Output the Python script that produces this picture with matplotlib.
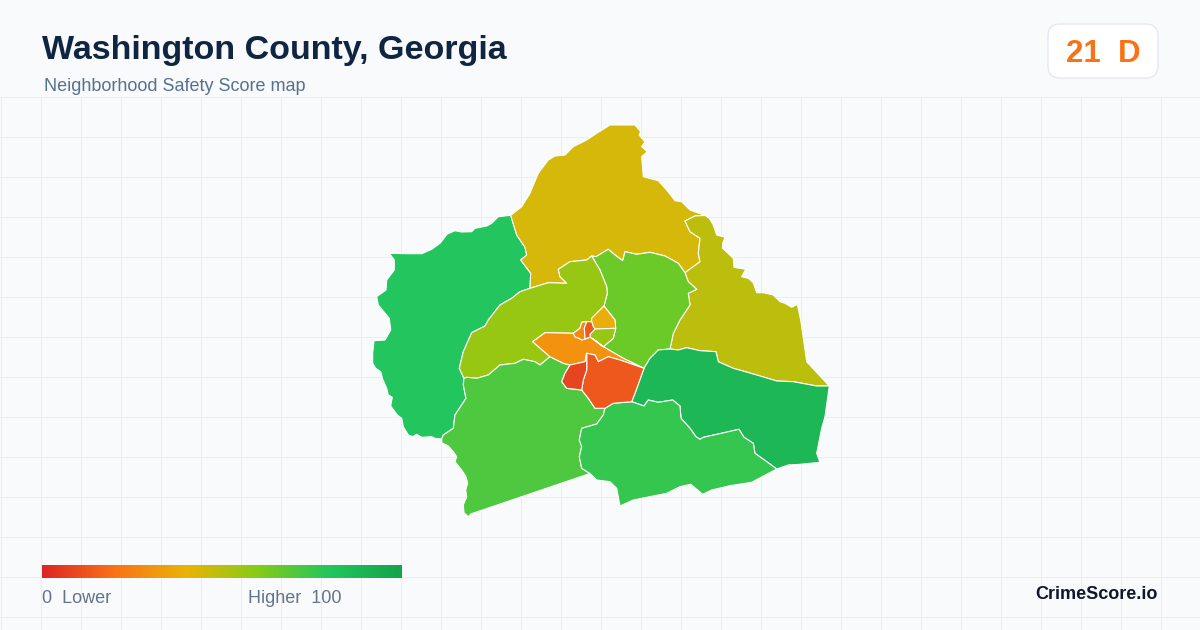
import matplotlib
matplotlib.use('Agg')
import matplotlib.pyplot as plt
import numpy as np
from matplotlib.colors import LinearSegmentedColormap
from matplotlib.patches import FancyBboxPatch

plt.rcParams['font.family'] = ['Liberation Sans', 'DejaVu Sans']

title = 'Washington County, Georgia'
subtitle = 'Neighborhood Safety Score map'
county_score = '21  D'
scale_colors = ['#dc2626', '#f97316', '#eab308', '#84cc16', '#22c55e', '#16a34a']

# shared borders
west_outer = [(510.7,215.3),(498.3,216.7),(491.7,223.3),(486.7,226),(475,228.3),(471.7,231.7),(461.7,232),(455,230.7),(447.3,234),(440,243.3),(431.7,249.3),(421.7,253.7),(406.7,253.7),(389.3,253.3),(394.3,260),(394.3,270),(386.7,280),(386,290),(376.7,296.7),(378.3,305),(389.3,318.3),(390.7,330),(385,340),(374,340.7),(372.7,353.3),(372.7,363.3),(375.7,368.3),(380.7,371.7),(382.7,379.3),(386.7,388.3),(388.3,395),(392.3,397.3),(390.7,406),(397.3,415),(401.7,418.3),(403.3,426.7),(408.3,435),(412.7,436.7),(416.7,434.3),(421.7,437.3),(431.7,436.7),(435,438.3),(441.7,439)]
west_south = [(441.7,439),(443.3,435),(453.3,428.3),(455,415),(466,398.3),(463.3,385),(464,378.3)]
west_mid = [(464,378.3),(459.3,368.3),(463.3,351.7),(471.7,332.7),(485,326),(488.3,320),(500,305),(511.7,298.3),(520,291.7),(530,288.3)]
west_north = [(530,288.3),(530.7,273.3),(520.7,260),(526.7,255),(525,247.3),(516.7,235),(510.7,215.3)]
north_outer = [(510.7,215.3),(521.7,206.7),(530,193.3),(538.3,173.3),(548.3,160),(555,156),(565,155),(573.3,146.7),(586.7,140),(596.7,133.3),(610,125),(635,125),(640.7,131.7),(639,135),(645,141.7),(641.7,146.7),(647.3,151.7),(641.7,156.7),(643.3,176.7),(658.3,180.7),(666.7,190),(675,200.7),(681.7,201.7),(690,210),(705,215.5)]
north_ne = [(705,215.5),(695,216),(685,221),(690,231.7),(700,238.3),(698.3,253.3),(700,261.7),(685,272.7)]
north_nc = [(685,272.7),(678.3,263.3),(665,256),(650,252.3),(636.7,254.3),(625,251.7),(622.7,260.7),(615,255),(608.3,249.3),(596,256.7),(591.7,256)]
north_wc = [(591.7,256),(586.7,260),(570,261.7),(558.3,269.3),(560,276.7),(566.7,283.3),(548.3,282.7),(530,288.3)]
ne_outer = [(705,215.5),(709.3,218.3),(713.3,225),(716.7,235),(725,237.3),(722.7,243.3),(722.7,248.3),(733.3,258.3),(734,267.3),(745.7,269.3),(741.7,276.7),(748.3,278.3),(753.3,282.7),(756.7,292.7),(763.3,292.7),(773.3,295),(780,301.7),(785,303.3),(791.7,307.3),(797.3,304.3),(800.7,320),(806.7,361.7),(829.3,386)]
ne_se = [(829.3,386),(816.7,386),(793.3,381.7),(776.7,381),(756.7,375),(733.3,368.3),(718.3,361.7),(716,351.7),(700,350.7),(686.7,347.7),(678.3,350),(670,349)]
ne_nc = [(670,349),(673.3,333.3),(680,320),(690,305),(688.3,293.3),(696.7,289.3),(688.3,281.7),(685,272.7)]
nc_se = [(670,349),(658.3,350),(650,358.3),(644,368.3)]
nc_wc = [(591.7,256),(600,270),(606.7,286.7),(607.3,293.3),(604,306)]
gold_nc = [(604,306),(615,320),(615.7,328.3)]
cres_nc = [(615.7,328.3),(613.3,338.3),(603.3,346.7)]
nc_orange = [(603.3,346.7),(623.3,358.3),(644,368.3)]
wc_center = [(604,306),(591.7,318.3),(591.7,321.7),(586.7,321.7),(581.7,322.3),(580,328.3),(573.3,333.3)]
wc_orange = [(573.3,333.3),(545,332.7),(532.7,341.7),(550,356.7)]
wc_sw = [(550,356.7),(540,365),(535,361.7),(523.3,359.3),(515,363.3),(500,365),(488.3,375),(476.7,378.3),(466.7,377.3),(464,378.3)]
orange_top = [(573.3,333.3),(575,336.7),(579,338.3),(581.7,340),(585,339),(590,337),(593.3,339),(603.3,346.7)]
orange_bigred = [(644,368.3),(620,360),(608.3,356.7),(598.3,361.7),(595,355),(586.7,353.3)]
orange_red = [(586.7,353.3),(585,361.7),(570,365),(563.3,363.3),(550,356.7)]
bigred_red = [(586.7,353.3),(586.7,370),(583.3,380),(581.7,390)]
bigred_se = [(644,368.3),(635,393.3),(631.7,401.7)]
bigred_south = [(631.7,401.7),(613.3,403.3),(605,408.3)]
bigred_sw = [(605,408.3),(595,408.3),(588.3,398.3),(581.7,390)]
red_sw = [(581.7,390),(566.7,388.3),(561.7,381.7),(565,373.3),(570,365)]
sw_south = [(605,408.3),(603.3,415),(596.7,424),(581.7,428.3),(579.3,440),(581.7,446.7),(579.3,456.7),(581.7,468.3),(590,473.5)]
sw_outer = [(590,473.5),(470.7,514),(468.3,516.7),(464,512.7),(463.3,505),(466.7,496.7),(465.7,490),(467.7,483.3),(466,476.7),(461.7,470),(455,461.7),(456.7,456.7),(453.3,451.7),(448.3,446),(441.7,442.7),(441.7,439)]
se_south = [(631.7,401.7),(644,406),(648.3,400),(658.3,402.3),(672.7,400),(680,406),(681,418.3),(690,428.3),(696,436.7),(700,439.3),(703.3,437.3),(718.3,434),(739,429.3),(744,437.3),(753.3,443.3),(755,453.3),(766.7,461.7),(776.7,469)]
se_outer = [(829.3,386),(825,416.7),(821.7,428.3),(816.7,453.3),(820,462.3),(800,464.3),(788.3,465),(776.7,469)]
south_outer = [(776.7,469),(751.7,482.3),(730,485.7),(711.7,490),(702.7,494.3),(690.7,484.3),(680,486.7),(666.7,493.3),(633.3,500),(620,506),(616.7,488.3),(610,481.7),(596.7,480),(590,473.5)]
gold_cres = [(615.7,328.3),(595,329)]
gold_wc = [(595,329),(593.3,326.7),(591.7,321.7),(591.7,318.3),(604,306)]
red_cres = [(595,329),(590,334.3),(590,337)]
red_orange = [(590,337),(585,339),(585,335.7),(584.3,328.3),(586.7,321.7)]
red_top = [(586.7,321.7),(591.7,321.7),(593.3,326.7),(595,329)]

west = west_outer + west_south + west_mid + west_north
north = north_outer + north_ne + north_nc + north_wc + west_north
ne = ne_outer + ne_se + ne_nc + north_ne[::-1]
nc = north_nc[::-1] + ne_nc[::-1] + nc_se + nc_orange[::-1] + cres_nc[::-1] + gold_nc[::-1] + nc_wc[::-1]
wc = nc_wc + wc_center + wc_orange + wc_sw + west_mid + north_wc[::-1]
orange = orange_top + nc_orange + orange_bigred + orange_red + wc_orange[::-1]
bigred = orange_bigred[::-1] + bigred_se + bigred_south + bigred_sw + bigred_red[::-1]
red = bigred_red + red_sw + orange_red[1:3][::-1]
sw = wc_sw[::-1] + orange_red[::-1][:3] + red_sw[::-1] + bigred_sw[::-1] + sw_south + sw_outer + west_south
se = nc_se + bigred_se + se_south + se_outer[::-1] + ne_se
south = bigred_south + sw_south + south_outer[::-1] + se_south[::-1]
gold = gold_nc + gold_cres + gold_wc
cres = gold_cres + red_cres + orange_top[::-1][:2] + cres_nc[::-1]
center_orange = wc_center[3:] + orange_top[:5] + red_orange
center_red = red_top + red_cres + red_orange

tract_shapes = [west, north, ne, nc, wc, sw, se, south, orange, bigred, red, gold, cres, center_orange, center_red]
tract_scores = [80, 44, 49, 65, 56, 71, 88, 76, 30, 13, 8, 38, 56, 26, 13]

cmap = LinearSegmentedColormap.from_list('safety', scale_colors)

fig = plt.figure(figsize=(12, 6.3), dpi=100, facecolor='#f8fafc')
ax = fig.add_axes([0, 0, 1, 1])
ax.set_xlim(0, 1200)
ax.set_ylim(630, 0)
ax.axis('off')

for gx in np.arange(0.5, 1200, 40):
    ax.plot([gx, gx], [96.5, 630], color='#e8eef3', lw=0.72, zorder=1)
for gy in np.arange(96.5, 630, 40):
    ax.plot([0, 1200], [gy, gy], color='#e8eef3', lw=0.72, zorder=1)

for shape, score in zip(tract_shapes, tract_scores):
    ax.fill(*zip(*shape), facecolor=cmap(score / 100), edgecolor='white', lw=0.8, joinstyle='round', zorder=2)

ax.text(42, 59, title, fontsize=24.5, fontweight='bold', color='#0f2542', va='baseline', ha='left')
ax.text(44, 91, subtitle, fontsize=12.95, color='#587090', va='baseline', ha='left')

ax.add_patch(FancyBboxPatch((1060, 36), 86, 30, boxstyle='round,pad=12', facecolor='white', edgecolor='#e2e8f0', lw=0.9, zorder=3))
ax.text(1103, 62, county_score, fontsize=22.5, fontweight='bold', color='#f97316', va='baseline', ha='center', zorder=4)

grad = np.linspace(0, 1, 360).reshape(1, -1)
ax.imshow(grad, cmap=cmap, extent=(42, 402, 578, 565), aspect='auto', zorder=3)
ax.set_xlim(0, 1200)
ax.set_ylim(630, 0)
ax.text(42, 603, '0  Lower', fontsize=12.96, color='#64748b', va='baseline', ha='left')
ax.text(342, 603, 'Higher  100', fontsize=12.96, color='#64748b', va='baseline', ha='right')
ax.text(1158, 599, 'CrimeScore.io', fontsize=13, fontweight='bold', color='#0f172a', va='baseline', ha='right')

fig.savefig('out.png', dpi=100, facecolor=fig.get_facecolor())
